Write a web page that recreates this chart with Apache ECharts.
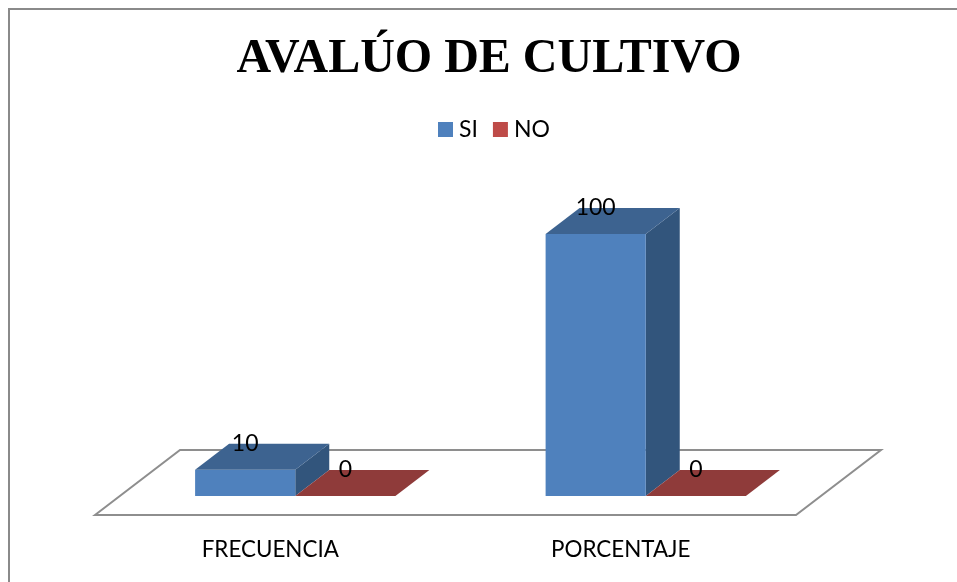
<!DOCTYPE html>
<html><head><meta charset="utf-8">
<style>html,body{margin:0;padding:0;background:#fff}#c{width:957px;height:582px}</style>
<script src="https://cdn.jsdelivr.net/npm/echarts@6/dist/echarts.min.js"></script>
</head><body><div id="c"></div>
<script>
const titleText = 'AVALÚO DE CULTIVO';
const categories = ['FRECUENCIA', 'PORCENTAJE'];
const siValues = [10, 100];
const noValues = [0, 0];

const SANS = 'Lato';
const DEPTH_X = 34, DEPTH_Y = 26;       // bar depth in the oblique projection
const SHIFT_X = 25, SHIFT_Y = 19;       // bars stand inside the floor
const FLOOR_X = 85, FLOOR_Y = 65;       // floor depth

function barSeries(name, values, slot, front, top, side) {
  return {
    name, type: 'custom', z: 3, coordinateSystem: 'cartesian2d',
    itemStyle: {color: front},
    data: values.map((v, i) => [categories[i], v]),
    encode: {x: 0, y: 1},
    renderItem(params, api) {
      const w = api.size([1, 0])[0] / 3.5;
      const base = api.coord([api.value(0), 0]);
      const peak = api.coord([api.value(0), api.value(1)]);
      const x0 = base[0] + SHIFT_X + slot * w, x1 = x0 + w;
      const yb = base[1], yt = peak[1];
      const poly = (points, fill) => ({type: 'polygon', shape: {points}, style: {fill}});
      const children = [];
      if (yb - yt > 0.5) {
        children.push(poly([[x1, yt], [x1 + DEPTH_X, yt - DEPTH_Y], [x1 + DEPTH_X, yb - DEPTH_Y], [x1, yb]], side));
        children.push(poly([[x0, yt], [x1, yt], [x1, yb], [x0, yb]], front));
      }
      children.push(poly([[x0, yt], [x0 + DEPTH_X, yt - DEPTH_Y], [x1 + DEPTH_X, yt - DEPTH_Y], [x1, yt]], top));
      children.push({type: 'text', z2: 10, style: {
        text: String(values[params.dataIndex]),
        x: x0 + w / 2, y: yt - 26, align: 'center', verticalAlign: 'middle',
        font: '23px ' + SANS, fill: '#000'
      }});
      return {type: 'group', children};
    }
  };
}

const chart = echarts.init(document.getElementById('c'), null, {renderer: 'canvas'});
chart.setOption({
  animation: false,
  backgroundColor: '#fff',
  title: {
    text: titleText, left: 484, top: 31, textAlign: 'center',
    textStyle: {fontFamily: 'Liberation Serif', fontWeight: 'bold', fontSize: 48, color: '#000'}
  },
  legend: {
    left: 433, top: 113, itemWidth: 15, itemHeight: 15, itemGap: 15, icon: 'rect',
    textStyle: {fontFamily: SANS, fontSize: 23, color: '#000', padding: [0, 0, 0, 1]},
    data: [
      {name: 'SI', itemStyle: {color: '#4F81BD'}},
      {name: 'NO', itemStyle: {color: '#BE4B48'}}
    ]
  },
  grid: {left: 95, width: 701, top: 234, height: 262, containLabel: false},
  xAxis: {
    type: 'category', data: categories,
    axisLine: {show: false}, axisTick: {show: false}, splitLine: {show: false},
    axisLabel: {margin: 43, fontFamily: SANS, fontSize: 22.4, color: '#000'}
  },
  yAxis: {type: 'value', min: 0, max: 100, show: false},
  graphic: [{
    type: 'polyline', silent: true, z: -1,
    shape: {points: [[9, 600], [9, 9], [970, 9]]},
    style: {stroke: '#8a8a8a', lineWidth: 2, fill: null}
  }],
  series: [
    {
      type: 'custom', name: 'floor', z: 1, coordinateSystem: 'cartesian2d', silent: true,
      data: [[categories[0], 0]], encode: {x: 0, y: 1},
      renderItem(params, api) {
        const band = api.size([1, 0])[0];
        const c = api.coord([categories[0], 0]);
        const l = c[0] - band / 2, r = l + band * categories.length, y = c[1] + SHIFT_Y;
        return {
          type: 'polygon',
          shape: {points: [[l, y], [l + FLOOR_X, y - FLOOR_Y], [r + FLOOR_X, y - FLOOR_Y], [r, y]]},
          style: {fill: '#fff', stroke: '#8e8e8e', lineWidth: 2}
        };
      }
    },
    barSeries('SI', siValues, -1, '#4F81BD', '#3D6390', '#32557C'),
    barSeries('NO', noValues, 0, '#BE4B48', '#8F3B3A', '#7A3231')
  ]
});
</script></body></html>
